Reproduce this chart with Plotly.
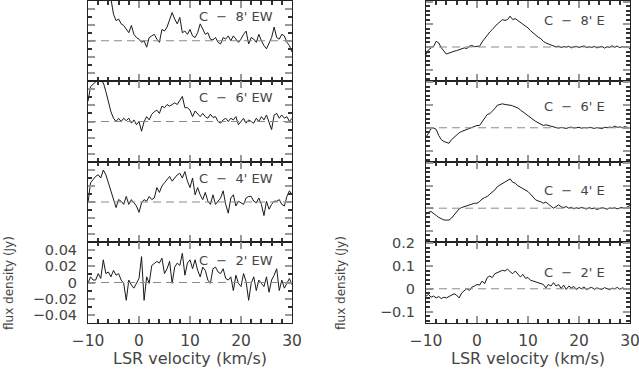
import plotly.graph_objects as go
import numpy as np

# channel velocities (km/s), 0.5 km/s sampling
velocity = np.arange(-10, 30.5, 0.5)

# flux densities in mJy (left column: EW cuts)
ew8 = [90, 95, 100, 100, 95, 90, 80, 70, 60, 52,
       33, 25, 27, 21, 19, 14, 10, 19, 8, 4,
       2, -2, 0, -8, 4, 6, 8, 2, -2, 14,
       12, 17, 27, 35, 27, 21, 29, 10, 12, 8,
       14, 6, 4, 10, 21, 14, 8, 10, 2, 1,
       4, -2, -4, 4, 2, 6, 0, 6, 2, -2,
       2, 8, 12, -4, 4, 2, -2, 8, 0, -6,
       -10, -2, 4, 17, 4, 2, 8, 6, -2, -6,
       -14]
ew6 = [25, 43, 46, 49, 52, 50, 48, 37, 25, 12,
       4, 0, 4, 0, 4, 1, 4, -2, 2, -4,
       0, -12, 0, 6, 2, 9, 12, 14, 10, 19,
       17, 21, 19, 21, 23, 21, 26, 31, 17, 17,
       14, 6, 13, 9, 6, 10, 6, 4, 9, 5,
       6, 0, -2, 2, 4, 0, 4, 2, 6, -4,
       0, 4, -2, 2, 0, -2, 4, 0, 6, 2,
       8, 0, -10, 8, 10, 4, 8, 4, 6, 0,
       4]
ew4 = [-1, 24, 28, 32, 34, 30, 40, 34, 24, 14,
       5, -7, 3, 1, -3, 7, -3, 3, -1, -5,
       -13, -1, 3, 1, 7, 3, 5, 18, 12, 20,
       24, 28, 32, 26, 30, 34, 36, 30, 38, 26,
       18, 30, 9, 18, 9, 3, 12, 1, -3, 9,
       -3, 1, 5, 14, -3, -14, 5, 9, -5, 1,
       -1, -3, 5, 7, 7, 1, -1, 5, -3, -17,
       1, -9, -3, 1, 1, 3, -3, -5, 7, 14,
       9]
ew2 = [-1, 7, 3, 3, 11, 5, 28, 11, 13, 7,
       15, 9, 11, 3, -1, -22, 3, -3, -7, -1,
       5, 32, -22, 7, -1, 21, 24, 26, 24, 30,
       11, 17, 26, -1, 19, 24, 21, 36, 9, 24,
       28, 17, 28, 15, 7, 19, 15, 3, -1, 17,
       19, 13, 11, 17, 5, 3, 7, -10, 9, -1,
       -5, 11, 1, -22, -1, 7, -10, 3, -1, -5,
       7, -12, 3, 9, 17, -10, 3, -7, -1, 5,
       -3]

# right column: E cuts
e8 = [-34, -12, -4, 3, 25, 18, -4, -19, -31, -27,
      -22, -19, -16, -12, -7, -4, -7, 3, 7, 1,
      3, 3, 22, 37, 55, 66, 77, 91, 102, 111,
      121, 117, 121, 136, 121, 125, 117, 111, 102, 91,
      84, 72, 62, 55, 43, 37, 25, 18, 13, 7,
      3, 0, 4, -3, 2, -1, 3, -4, 1, 3,
      -2, 0, 5, -3, 1, -2, 2, -4, 0, 3,
      -5, 1, -2, 6, -1, 4, -3, 2, 0, 3,
      -10]
e6 = [-41, -19, -4, -1, -7, -34, -52, -60, -63, -68,
      -52, -41, -31, -22, -16, -12, -7, -1, 1, 7,
      10, 10, 25, 43, 58, 62, 72, 84, 99, 102,
      105, 102, 102, 99, 96, 91, 87, 78, 69, 62,
      52, 43, 37, 28, 22, 16, 10, 13, 10, 4,
      1, 0, -2, 2, 0, -3, 1, 3, -1, 0,
      2, -2, 1, -1, 2, 0, -3, 1, 0, -4,
      2, 0, 3, 1, 7, 2, 4, 1, 5, 3,
      -1]
e4 = [-27, -18, -15, -22, -32, -41, -47, -52, -53, -53,
      -44, -29, -15, -3, 3, 6, 12, 15, 18, 22,
      22, 29, 41, 47, 52, 62, 71, 81, 96, 103,
      111, 115, 125, 130, 115, 111, 100, 94, 88, 81,
      74, 62, 47, 37, 32, 29, 22, 27, 18, 7,
      0, 7, 15, 6, 3, 7, 0, 4, -3, 2,
      -1, 4, 0, -4, 3, -2, 1, -6, -2, 2,
      0, -5, 1, -1, 2, -3, 1, 4, 0, 6,
      12]
e2 = [-32, -25, -37, -32, -40, -34, -43, -37, -40, -34,
      -28, -22, -28, -40, -18, -7, 1, -7, 7, 12,
      19, 16, 34, 22, 49, 56, 49, 66, 71, 75,
      81, 78, 86, 75, 66, 78, 66, 52, 63, 46,
      49, 37, 34, 31, 27, 22, 19, 4, 19, 12,
      27, 12, 19, 1, 16, -3, 12, 4, 10, -3,
      6, 0, 8, -4, 3, 6, -2, 4, 0, -3,
      5, 1, -4, 3, 0, 6, -2, 4, -1, -3,
      2]

labels_ew = ["C \u00a0\u2212\u00a0 8' EW", "C \u00a0\u2212\u00a0 6' EW",
             "C \u00a0\u2212\u00a0 4' EW", "C \u00a0\u2212\u00a0 2' EW"]
labels_e = ["C \u00a0\u2212\u00a0 8' E", "C \u00a0\u2212\u00a0 6' E",
            "C \u00a0\u2212\u00a0 4' E", "C \u00a0\u2212\u00a0 2' E"]

W, H = 639, 370
FONT = "DejaVu Sans"
TXT = "#444"

rows_px = [0.5, 81, 162, 242, 323]
cols_px = [(88, 292), (426, 630)]
label_drop = [[16, 17, 16, 18], [20, 26, 28, 30]]

fig = go.Figure()
layout = {}
panels = [(0, r, s, labels_ew[r]) for r, s in enumerate([ew8, ew6, ew4, ew2])] + \
         [(1, r, s, labels_e[r]) for r, s in enumerate([e8, e6, e4, e2])]

for i, (c, r, spec, lab) in enumerate(panels):
    n = i + 1
    xa, ya = f"x{n}", f"y{n}"
    xd = [cols_px[c][0] / W, cols_px[c][1] / W]
    yd = [1 - rows_px[r + 1] / H, 1 - rows_px[r] / H]
    bottom = r == 3

    fig.add_trace(go.Scatter(x=velocity, y=np.array(spec) / 1000.0, mode="lines",
                             line=dict(color="#1a1a1a", width=1),
                             xaxis=xa, yaxis=ya, showlegend=False, hoverinfo="skip"))
    fig.add_shape(type="line", x0=-10, x1=30, y0=0, y1=0, xref=xa, yref=ya,
                  line=dict(color="#8a8a8a", width=1, dash="8px,5px"))

    layout["xaxis" if n == 1 else f"xaxis{n}"] = dict(
        domain=xd, anchor=ya, range=[-10, 30], showgrid=False, zeroline=False,
        automargin=False, ticklabeloverflow="allow",
        showline=True, linecolor="#222", linewidth=1, mirror="allticks",
        ticks="inside", ticklen=7, tickwidth=1.5, tickcolor="#999",
        tick0=0, dtick=10, showticklabels=bottom, ticklabelstandoff=3,
        tickfont=dict(family=FONT, size=15.5, color=TXT),
        minor=dict(ticks="inside", dtick=2, ticklen=4, tickcolor="#333", showgrid=False),
    )
    if c == 0:
        yr, ydt, ymin = [-0.05, 0.05], 0.02, 0.01
    else:
        yr, ydt, ymin = [-0.15, 0.205], 0.1, 0.02
    layout["yaxis" if n == 1 else f"yaxis{n}"] = dict(
        domain=yd, anchor=xa, range=yr, showgrid=False, zeroline=False,
        automargin=False, ticklabeloverflow="allow",
        showline=True, linecolor="#222", linewidth=1, mirror="allticks",
        ticks="inside", ticklen=7, tickwidth=1.5, tickcolor="#999",
        tick0=0, dtick=ydt, showticklabels=bottom, ticklabelstandoff=7,
        tickfont=dict(family=FONT, size=14.5, color=TXT),
        minor=dict(ticks="inside", dtick=ymin, ticklen=4, tickcolor="#333", showgrid=False),
    )
    fig.add_annotation(text=lab, xref="paper", yref="paper",
                       x=(cols_px[c][1] - (17 if c == 0 else 23)) / W,
                       y=1 - (rows_px[r] + label_drop[c][r]) / H,
                       xanchor="right", yanchor="middle", showarrow=False,
                       font=dict(family=FONT, size=13, color=TXT))

for c, (x0, x1) in enumerate(cols_px):
    fig.add_annotation(text="LSR velocity (km/s)", xref="paper", yref="paper",
                       x=(x0 + x1) / 2 / W, y=1 - 358 / H, xanchor="center",
                       yanchor="middle", showarrow=False,
                       font=dict(family=FONT, size=16, color=TXT))
    fig.add_annotation(text="flux density (Jy)", xref="paper", yref="paper",
                       x=(9 if c == 0 else 341) / W, y=1 - 283 / H, textangle=-90,
                       xanchor="center", yanchor="middle", showarrow=False,
                       font=dict(family=FONT, size=12, color=TXT))

fig.update_layout(**layout)
fig.update_layout(width=W, height=H, margin=dict(l=0, r=0, t=0, b=0),
                  paper_bgcolor="white", plot_bgcolor="white",
                  font=dict(family=FONT, color=TXT))
fig.write_html("out.html", config={"displayModeBar": False},
               post_script="document.body.style.margin='0';document.body.style.overflow='hidden';")
